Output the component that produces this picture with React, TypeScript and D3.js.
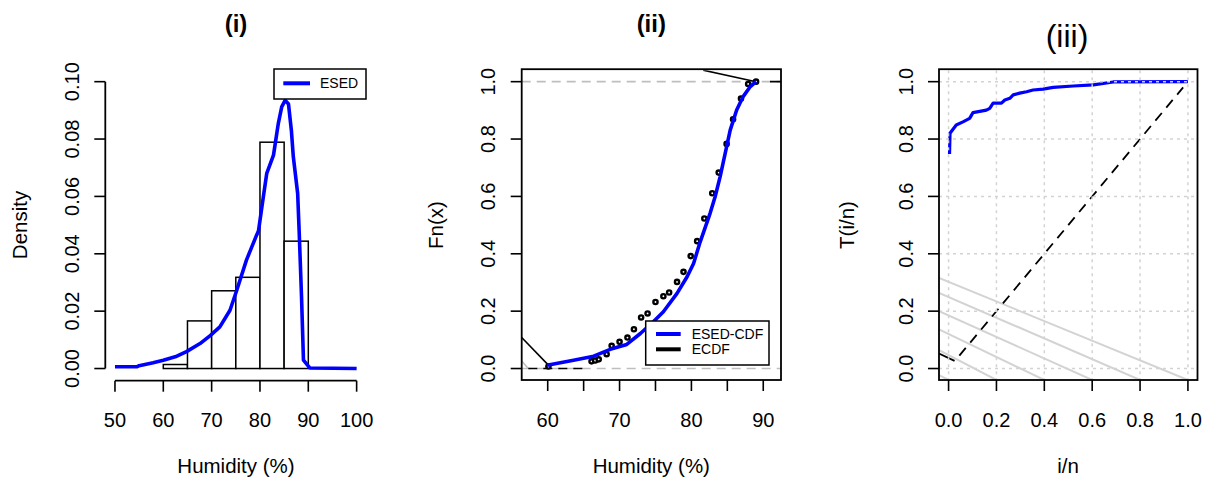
import React from "react";
import * as d3 from "d3";

// ---------- Panel (i) data ----------
const binStarts = [60, 65, 70, 75, 80, 85];
const binWidth = 5;
const binDensity = [0.0014, 0.0166, 0.0271, 0.0318, 0.0789, 0.0444];
const esedX = [50, 54.5, 55, 57.9, 60, 62.8, 64.8, 67.6, 69.7, 71.7, 73.8, 75.2, 77.2, 79.3, 79.7, 80.7, 81.4, 82.8, 83.8, 84.5, 85.2, 85.9, 86.5, 86.9, 87.8, 88.1, 88.6, 89.0, 90.3, 100];
const esedY = [0.0006, 0.0006, 0.001, 0.002, 0.0029, 0.0043, 0.0059, 0.0087, 0.0115, 0.0145, 0.0203, 0.0273, 0.0378, 0.0465, 0.048, 0.0599, 0.068, 0.0744, 0.0855, 0.0912, 0.0935, 0.0922, 0.083, 0.0738, 0.061, 0.0483, 0.025, 0.0029, 0.0002, 0];
const xTicks1 = [50, 60, 70, 80, 90, 100];
const yTicks1 = [0, 0.02, 0.04, 0.06, 0.08, 0.1];

// ---------- Panel (ii) data ----------
const ecdfX = [60.1, 66.1, 66.6, 67.1, 68.2, 68.9, 70.0, 71.1, 72.0, 73.0, 73.9, 75.0, 76.1, 76.9, 78.0, 78.9, 79.9, 80.8, 81.8, 82.9, 83.8, 84.9, 85.8, 86.9, 87.9, 89.0];
const ecdfY = [0.007, 0.025, 0.028, 0.032, 0.05, 0.079, 0.093, 0.108, 0.137, 0.178, 0.192, 0.232, 0.252, 0.265, 0.302, 0.337, 0.392, 0.444, 0.523, 0.611, 0.683, 0.783, 0.869, 0.941, 0.992, 1.0];
const cdfX = [59.9, 63.6, 66.4, 68.7, 71.0, 72.9, 74.7, 76.1, 78.0, 79.4, 80.3, 81.2, 82.6, 83.3, 84.0, 84.7, 85.4, 86.3, 87.2, 88.2, 89.0];
const cdfY = [0.0115, 0.029, 0.043, 0.067, 0.084, 0.122, 0.163, 0.198, 0.262, 0.32, 0.366, 0.44, 0.541, 0.599, 0.669, 0.75, 0.831, 0.901, 0.948, 0.983, 1.0];
const blackSegX = [[56.38, 60.1], [81.65, 89.0], [90.94, 92.47]];
const blackSegY = [[0.108, 0.012], [1.04, 1.0], [1.0, 1.0]];
const blackDashX = [57.3, 65.65];
const greySegX = [56.38, 57.3];
const greySegY = [0.0265, 0.0];
const xTicks2 = [60, 65, 70, 75, 80, 85, 90];
const xLabels2 = [60, 70, 80, 90];
const yTicks = [0, 0.2, 0.4, 0.6, 0.8, 1.0];

// ---------- Panel (iii) data ----------
const ttX = [0.004, 0.006, 0.021, 0.032, 0.06, 0.088, 0.102, 0.158, 0.172, 0.186, 0.221, 0.235, 0.256, 0.27, 0.297, 0.326, 0.353, 0.395, 0.437, 0.521, 0.605, 0.688, 1.0];
const ttY = [0.748, 0.82, 0.837, 0.849, 0.86, 0.872, 0.892, 0.901, 0.907, 0.925, 0.925, 0.936, 0.942, 0.954, 0.96, 0.965, 0.971, 0.974, 0.98, 0.985, 0.989, 0.999, 1.0];
const diagX = [0.045, 0.98];
const greyLineY0 = [0.316, 0.264, 0.2, 0.136, 0.064, -0.023];
const greyLineX1 = [1.0, 0.8, 0.6, 0.4, 0.2, 0.0];
const blackTickX = [-0.04, 0.025];
const blackTickY = [0.052, 0.0265];
const xTicks3 = [0, 0.2, 0.4, 0.6, 0.8, 1.0];

const FONT = "'Liberation Sans', Arial, Helvetica, sans-serif";
const BLUE = "#0000ff";

export default function App() {
  // scales
  const x1 = d3.scaleLinear().domain([48, 102]).range([105.3, 366.3]);
  const y1 = d3.scaleLinear().domain([-0.004, 0.104]).range([380, 70.2]);
  const x2 = d3.scaleLinear().domain([56.38, 92.47]).range([521.7, 781]);
  const yP = d3.scaleLinear().domain([-0.04, 1.04]).range([380, 70.2]);
  const x3 = d3.scaleLinear().domain([-0.04, 1.04]).range([939, 1197.5]);

  const line1 = d3.line<number>().x((_, i) => x1(esedX[i])).y((_, i) => y1(esedY[i]));
  const line2 = d3.line<number>().x((_, i) => x2(cdfX[i])).y((_, i) => yP(cdfY[i]));
  const line3 = d3.line<number>().x((_, i) => x3(ttX[i])).y((_, i) => yP(ttY[i]));

  const tickLen = 11;
  const tickStyle = { stroke: "#000", strokeWidth: 1.6 };
  const labelSize = 20;

  const yLabelTicks = (xAxis: number, ticks: number[], scale: any, fmt: (v: number) => string) =>
    ticks.map((t, i) => (
      <g key={"yt" + i}>
        <line x1={xAxis - tickLen} x2={xAxis} y1={scale(t)} y2={scale(t)} {...tickStyle} />
        <text
          transform={`translate(${xAxis - 26.5},${scale(t)}) rotate(-90)`}
          textAnchor="middle"
          fontSize={labelSize}
        >
          {fmt(t)}
        </text>
      </g>
    ));

  const xLabelTicks = (yAxis: number, ticks: number[], labels: number[], scale: any, fmt: (v: number) => string) => (
    <g>
      {ticks.map((t, i) => (
        <line key={"xt" + i} x1={scale(t)} x2={scale(t)} y1={yAxis} y2={yAxis + tickLen} {...tickStyle} />
      ))}
      {labels.map((t, i) => (
        <text key={"xl" + i} x={scale(t)} y={426.7} textAnchor="middle" fontSize={labelSize}>
          {fmt(t)}
        </text>
      ))}
    </g>
  );

  const f2 = (v: number) => v.toFixed(2);
  const f1 = (v: number) => v.toFixed(1);
  const f0 = (v: number) => v.toFixed(0);

  return (
    <svg
      width={1207}
      height={478}
      style={{ position: "absolute", left: 0, top: 0, background: "#fff" }}
      fontFamily={FONT}
    >
      <rect x={0} y={0} width={1207} height={478} fill="#fff" />
      <defs>
        <clipPath id="clip2">
          <rect x={521.7} y={70.2} width={781 - 521.7} height={380 - 70.2} />
        </clipPath>
        <clipPath id="clip3">
          <rect x={939} y={70.2} width={1197.5 - 939} height={380 - 70.2} />
        </clipPath>
      </defs>

      {/* ================= Panel (i) ================= */}
      <text x={236} y={31.7} textAnchor="middle" fontSize={24} fontWeight="bold">(i)</text>
      {binStarts.map((b, i) => (
        <rect
          key={"bar" + i}
          x={x1(b)}
          y={y1(binDensity[i])}
          width={x1(b + binWidth) - x1(b)}
          height={y1(0) - y1(binDensity[i])}
          fill="#fff"
          stroke="#000"
          strokeWidth={1.5}
        />
      ))}
      <path d={line1(esedX) || ""} fill="none" stroke={BLUE} strokeWidth={3.6} strokeLinejoin="round" />
      {/* axes */}
      <line x1={x1(50)} x2={x1(100)} y1={380.7} y2={380.7} stroke="#000" strokeWidth={1.8} />
      {xLabelTicks(380.7, xTicks1, xTicks1, x1, f0)}
      <line x1={105.3} x2={105.3} y1={y1(0)} y2={y1(0.1)} stroke="#000" strokeWidth={1.8} />
      {yLabelTicks(105.3, yTicks1, y1, f2)}
      <text x={236} y={473.3} textAnchor="middle" fontSize={20.5}>Humidity (%)</text>
      <text transform={`translate(27,225) rotate(-90)`} textAnchor="middle" fontSize={20.5}>Density</text>
      {/* legend */}
      <rect x={274} y={69} width={92} height={30} fill="#fff" stroke="#000" strokeWidth={1.5} />
      <line x1={283.3} x2={310} y1={83.3} y2={83.3} stroke={BLUE} strokeWidth={4} />
      <text x={320} y={88.3} fontSize={14}>ESED</text>

      {/* ================= Panel (ii) ================= */}
      <text x={651.3} y={31.7} textAnchor="middle" fontSize={24} fontWeight="bold">(ii)</text>
      <g clipPath="url(#clip2)">
        <line x1={x2(56.38)} x2={x2(92.47)} y1={yP(0)} y2={yP(0)} stroke="#bebebe" strokeWidth={1.6} strokeDasharray="9,6" />
        <line x1={x2(56.38)} x2={x2(92.47)} y1={yP(1)} y2={yP(1)} stroke="#bebebe" strokeWidth={1.6} strokeDasharray="9,6" />
        <line x1={x2(greySegX[0])} x2={x2(greySegX[1])} y1={yP(greySegY[0])} y2={yP(greySegY[1])} stroke="#bebebe" strokeWidth={1.6} />
        <line x1={x2(blackDashX[0])} x2={x2(blackDashX[1])} y1={yP(0)} y2={yP(0)} stroke="#000" strokeWidth={1.6} strokeDasharray="9,6" />
        {blackSegX.map((s, i) => (
          <line key={"bs" + i} x1={x2(s[0])} x2={x2(s[1])} y1={yP(blackSegY[i][0])} y2={yP(blackSegY[i][1])} stroke="#000" strokeWidth={1.6} />
        ))}
        {ecdfX.map((v, i) => (
          <circle key={"pt" + i} cx={x2(v)} cy={yP(ecdfY[i])} r={2.1} fill="#fff" stroke="#000" strokeWidth={2.4} />
        ))}
        <path d={line2(cdfX) || ""} fill="none" stroke={BLUE} strokeWidth={3.6} strokeLinejoin="round" />
      </g>
      <rect x={521.7} y={69.2} width={781 - 521.7} height={380 - 69.2} fill="none" stroke="#000" strokeWidth={1.8} />
      {xLabelTicks(380, xTicks2, xLabels2, x2, f0)}
      {yLabelTicks(521.7, yTicks, yP, f1)}
      <text x={651.3} y={473.3} textAnchor="middle" fontSize={20.5}>Humidity (%)</text>
      <text transform={`translate(443,225) rotate(-90)`} textAnchor="middle" fontSize={20.5}>Fn(x)</text>
      {/* legend */}
      <rect x={645.7} y={321} width={123.3} height={44} fill="#fff" stroke="#000" strokeWidth={1.5} />
      <line x1={656} x2={680.7} y1={334} y2={334} stroke={BLUE} strokeWidth={4} />
      <line x1={656} x2={680.7} y1={349.3} y2={349.3} stroke="#000" strokeWidth={4} />
      <text x={691.7} y={339} fontSize={14}>ESED-CDF</text>
      <text x={691.7} y={354.3} fontSize={14}>ECDF</text>

      {/* ================= Panel (iii) ================= */}
      <text x={1067} y={46.5} textAnchor="middle" fontSize={32}>(iii)</text>
      <g clipPath="url(#clip3)">
        {greyLineY0.map((y0, i) => (
          <line key={"gl" + i} x1={x3(-0.04)} y1={yP(y0)} x2={x3(greyLineX1[i])} y2={yP(-0.04)} stroke="#d3d3d3" strokeWidth={2} />
        ))}
        <line x1={x3(diagX[0])} y1={yP(diagX[0])} x2={x3(diagX[1])} y2={yP(diagX[1])} stroke="#000" strokeWidth={1.8} strokeDasharray="10,7" />
        <line x1={x3(blackTickX[0])} y1={yP(blackTickY[0])} x2={x3(blackTickX[1])} y2={yP(blackTickY[1])} stroke="#000" strokeWidth={1.8} />
        <path d={line3(ttX) || ""} fill="none" stroke={BLUE} strokeWidth={3.2} strokeLinejoin="round" />
        {xTicks3.map((t, i) => (
          <line key={"gx" + i} x1={x3(t)} x2={x3(t)} y1={70.2} y2={380} stroke="#d3d3d3" strokeWidth={1.5} strokeDasharray="3,4" />
        ))}
        {yTicks.map((t, i) => (
          <line key={"gy" + i} x1={939} x2={1197.5} y1={yP(t)} y2={yP(t)} stroke="#d3d3d3" strokeWidth={1.5} strokeDasharray="3,4" />
        ))}
      </g>
      <rect x={939} y={69.2} width={1197.5 - 939} height={380 - 69.2} fill="none" stroke="#000" strokeWidth={1.8} />
      {xLabelTicks(380, xTicks3, xTicks3, x3, f1)}
      {yLabelTicks(939, yTicks, yP, f1)}
      <text x={1068} y={473.3} textAnchor="middle" fontSize={20.5}>i/n</text>
      <text transform={`translate(854,225) rotate(-90)`} textAnchor="middle" fontSize={20.5}>T(i/n)</text>
    </svg>
  );
}
